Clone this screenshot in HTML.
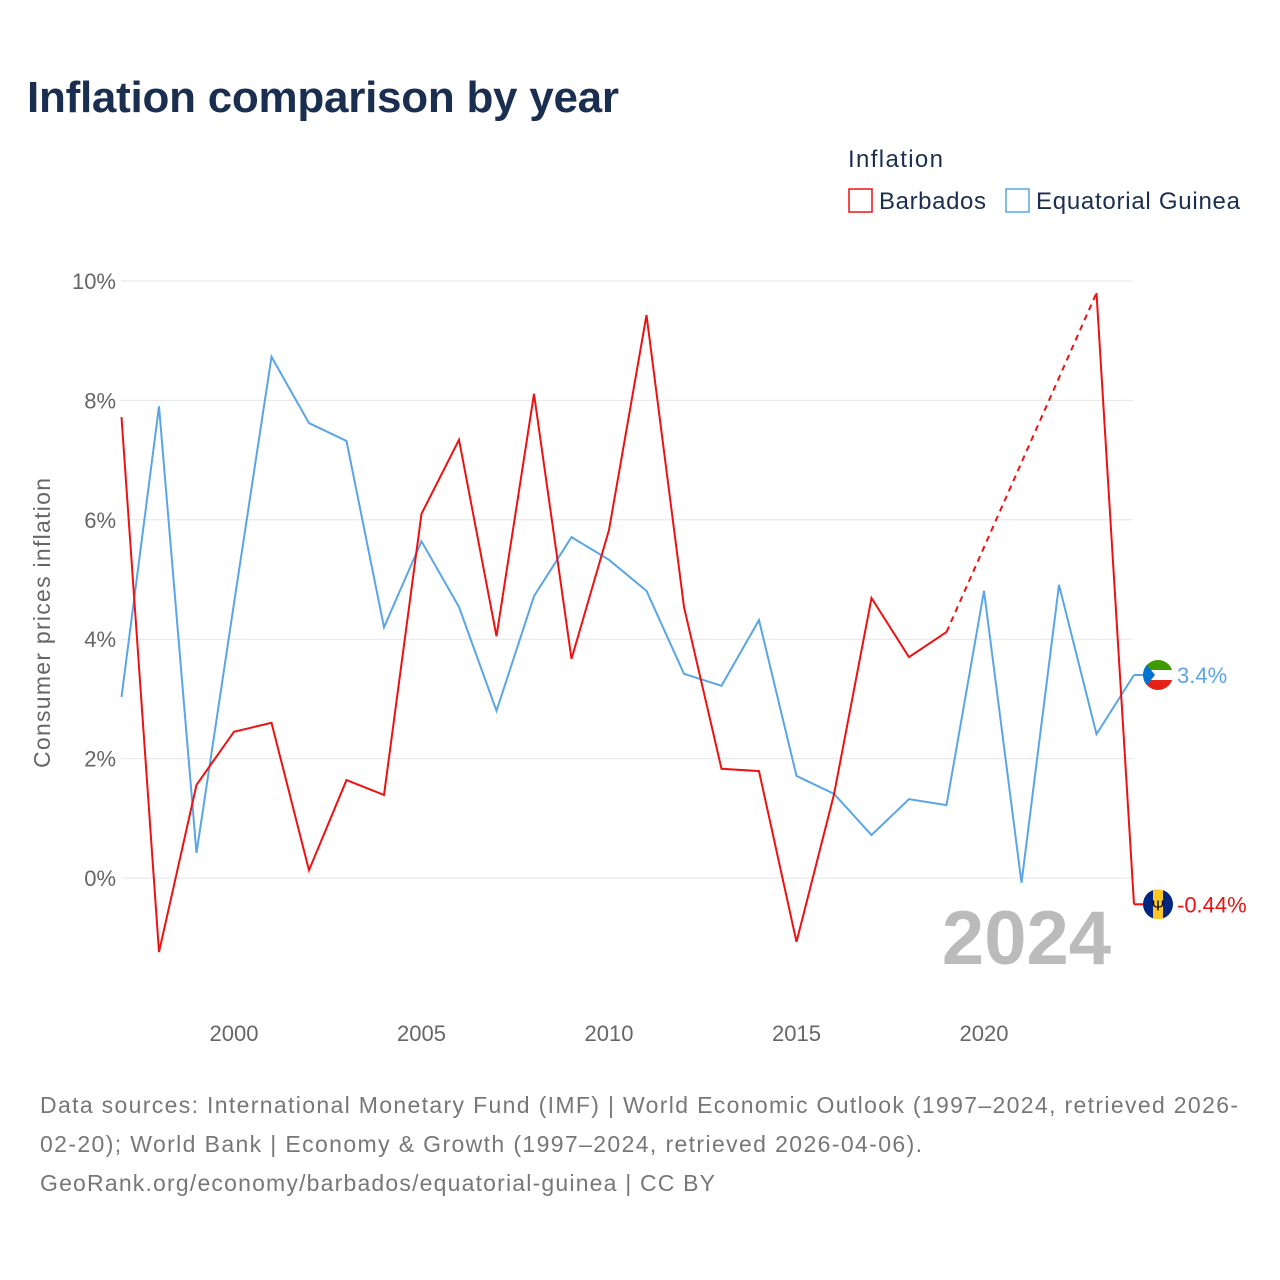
<!DOCTYPE html>
<html><head><meta charset="utf-8"><style>
body{margin:0;background:#fff;font-family:"Liberation Sans",sans-serif;}
#wrap{position:relative;width:1280px;height:1280px;overflow:hidden;}
</style></head><body><div id="wrap">
<svg id="svg" width="1280" height="1280">
<text x="27" y="112" font-size="44" font-weight="bold" fill="#1a2e4f" textLength="592">Inflation comparison by year</text>
<text x="848" y="167" font-size="24" fill="#1a2e4f" textLength="95">Inflation</text>
<g><rect x="849" y="189" width="23" height="23" fill="none" stroke="#ee1111" stroke-width="1.5"/><text x="879" y="209" font-size="24" fill="#1a2e4f" textLength="107">Barbados</text></g>
<g><rect x="1006" y="189" width="23" height="23" fill="none" stroke="#5aa5e8" stroke-width="1.5"/><text x="1036" y="209" font-size="24" fill="#1a2e4f" textLength="204">Equatorial Guinea</text></g>
<text transform="translate(50,623) rotate(-90)" text-anchor="middle" font-size="23" fill="#666" textLength="290">Consumer prices inflation</text>
<text x="1111" y="964" text-anchor="end" font-size="76" font-weight="bold" fill="#bbb">2024</text>
<g id="grid"></g><g id="series"></g>
<text x="40" y="1113" font-size="23" fill="#777" textLength="1198">Data sources: International Monetary Fund (IMF) | World Economic Outlook (1997–2024, retrieved 2026-</text>
<text x="40" y="1152" font-size="23" fill="#777" textLength="882">02-20); World Bank | Economy &amp; Growth (1997–2024, retrieved 2026-04-06).</text>
<text x="40" y="1191" font-size="23" fill="#777" textLength="675">GeoRank.org/economy/barbados/equatorial-guinea | CC BY</text>
</svg></div>
<script>
const years=[1997,1998,1999,2000,2001,2002,2003,2004,2005,2006,2007,2008,2009,2010,2011,2012,2013,2014,2015,2016,2017,2018,2019,2020,2021,2022,2023,2024];
const barbados=[7.72,-1.24,1.56,2.45,2.6,0.13,1.64,1.39,6.1,7.34,4.05,8.11,3.67,5.83,9.43,4.54,1.83,1.79,-1.07,1.4,4.69,3.7,4.12,null,null,null,9.8,-0.44];
const eqGuinea=[3.03,7.9,0.42,4.6,8.73,7.62,7.32,4.2,5.64,4.54,2.8,4.72,5.71,5.33,4.81,3.42,3.22,4.32,1.71,1.41,0.72,1.32,1.22,4.81,-0.08,4.91,2.41,3.4];
const yTicks=[0,2,4,6,8,10];
const xTicks=[2000,2005,2010,2015,2020];
const X=v=>121.5+(v-1997)*37.5;
const Y=v=>878-v*59.7;
const NS='http://www.w3.org/2000/svg';
function mk(t,a,p){const e=document.createElementNS(NS,t);for(const k in a)e.setAttribute(k,a[k]);p.appendChild(e);return e;}
const grid=document.getElementById('grid'),ser=document.getElementById('series');
yTicks.forEach(t=>{
const l=mk('line',{x1:121,x2:1133,y1:Y(t),y2:Y(t),stroke:'#e6e6e6','stroke-width':1},grid);


const tx=mk('text',{x:116,y:Y(t)+8,'text-anchor':'end','font-size':22,fill:'#666'},grid);tx.textContent=t+'%';


});
xTicks.forEach(t=>{
const tx=mk('text',{x:X(t),y:1041,'text-anchor':'middle','font-size':22,fill:'#666'},grid);tx.textContent=t;


});
function draw(vals,color,name){
let seg=[],last=null;
vals.forEach((v,i)=>{
if(v===null)return;
if(last!==null&&i-last>1){
const d=mk('line',{x1:X(years[last]),y1:Y(vals[last]),x2:X(years[i]),y2:Y(v),stroke:color,'stroke-width':2,'stroke-dasharray':'6,5'},ser);


if(seg.length>1){const p=mk('polyline',{points:seg.join(' '),fill:'none',stroke:color,'stroke-width':2},ser);}
seg=[];
}
seg.push(X(years[i])+','+Y(v));last=i;});
if(seg.length>1){const p=mk('polyline',{points:seg.join(' '),fill:'none',stroke:color,'stroke-width':2},ser);}
}
draw(eqGuinea,'#5aa5e8','equatorial-guinea');
draw(barbados,'#ee1111','barbados');
function endLabel(v,color,name,label,flag){
const y=Y(v);
mk('line',{x1:X(2024),x2:1144,y1:y,y2:y,stroke:color,'stroke-width':2},ser);
const g=mk('g',{},ser);


const cx=1158;
if(flag==='gq'){
mk('clipPath',{id:'cg'},g);document.getElementById('cg').appendChild(document.createElementNS(NS,'circle'));
const c=document.getElementById('cg').firstChild;c.setAttribute('cx',cx);c.setAttribute('cy',y);c.setAttribute('r',15);
const gg=mk('g',{'clip-path':'url(#cg)'},g);
mk('rect',{x:cx-15,y:y-15,width:30,height:10,fill:'#3e9a00'},gg);
mk('rect',{x:cx-15,y:y-5,width:30,height:10,fill:'#fff'},gg);
mk('rect',{x:cx-15,y:y+5,width:30,height:10,fill:'#e32118'},gg);
mk('polygon',{points:`${cx-15},${y-15} ${cx-3},${y} ${cx-15},${y+15}`,fill:'#0073ce'},gg);
}else{
mk('clipPath',{id:'cb'},g);const c=document.createElementNS(NS,'circle');document.getElementById('cb').appendChild(c);c.setAttribute('cx',cx);c.setAttribute('cy',y);c.setAttribute('r',15);
const gg=mk('g',{'clip-path':'url(#cb)'},g);
mk('rect',{x:cx-15,y:y-15,width:10,height:30,fill:'#00267f'},gg);
mk('rect',{x:cx-5,y:y-15,width:10,height:30,fill:'#ffc726'},gg);
mk('rect',{x:cx+5,y:y-15,width:10,height:30,fill:'#00267f'},gg);
const t=mk('text',{x:cx,y:y+6,'text-anchor':'middle','font-size':15,fill:'#000'},gg);t.textContent='Ψ';
}
const t=mk('text',{x:1177,y:y+8,'font-size':22,fill:color},ser);t.textContent=label;


}
endLabel(eqGuinea[eqGuinea.length-1],'#5aa5e8','equatorial-guinea',eqGuinea[eqGuinea.length-1]+'%','gq');
endLabel(barbados[barbados.length-1],'#ee1111','barbados',barbados[barbados.length-1]+'%','bb');
</script></body></html>
